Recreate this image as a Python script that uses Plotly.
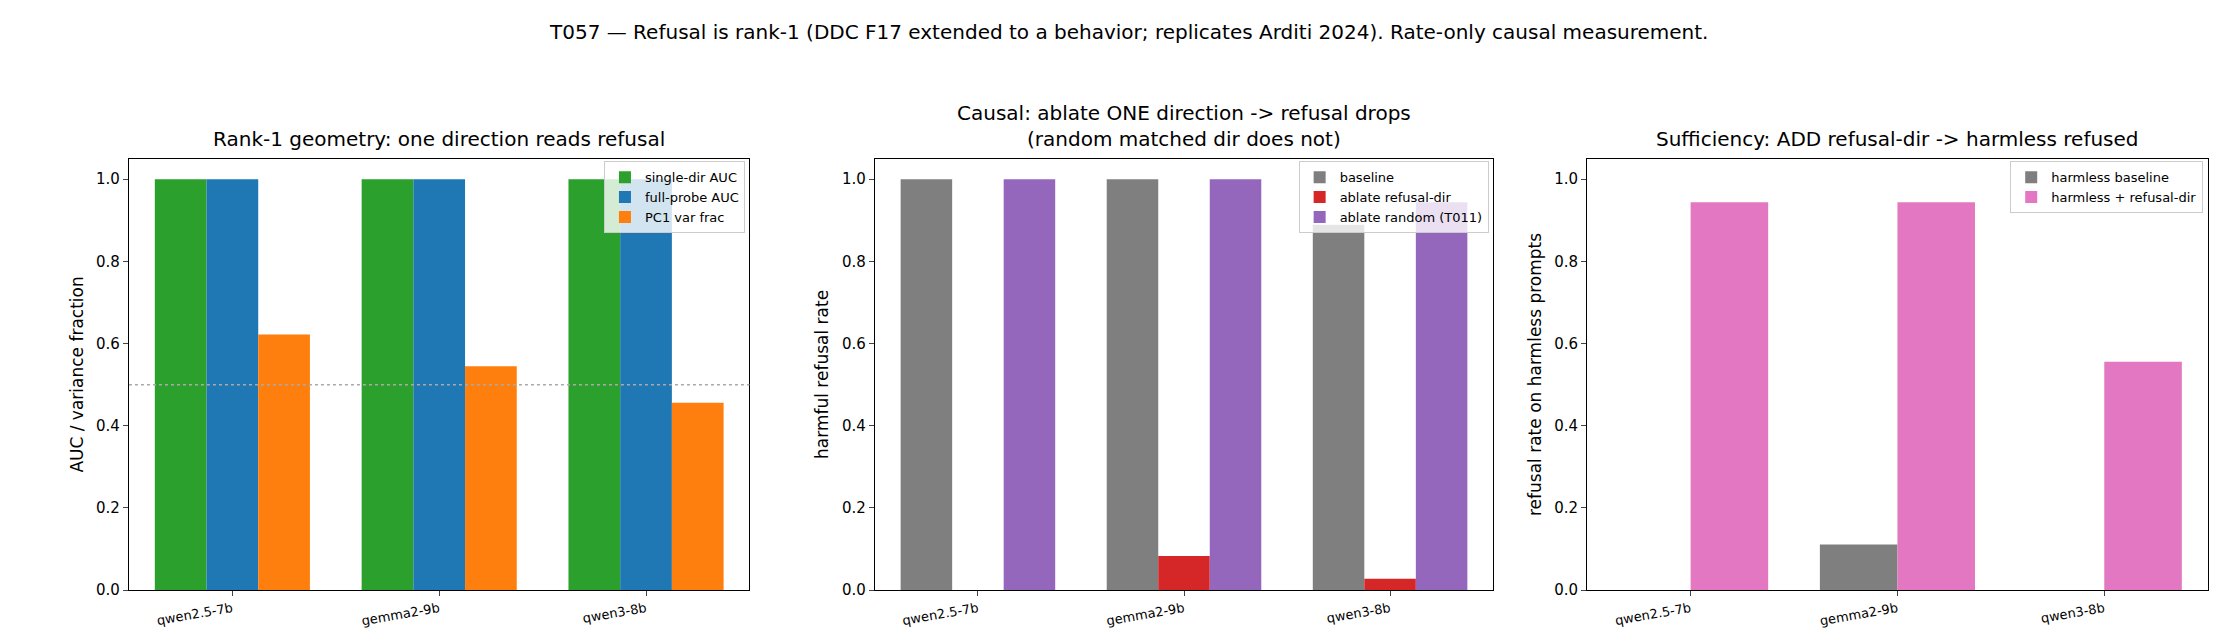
import plotly.graph_objects as go

models = ["qwen2.5-7b", "gemma2-9b", "qwen3-8b"]

single_dir_auc = [1.0, 1.0, 1.0]
full_probe_auc = [1.0, 1.0, 1.0]
pc1_var_frac = [0.622, 0.545, 0.456]

baseline = [1.0, 1.0, 0.889]
ablate_refusal = [0.0, 0.083, 0.028]
ablate_random = [1.0, 1.0, 0.944]

harmless_baseline = [0.0, 0.111, 0.0]
harmless_plus = [0.944, 0.944, 0.556]

GREEN, BLUE, ORANGE = "#2ca02c", "#1f77b4", "#ff7f0e"
GRAY, RED, PURPLE, PINK = "#7f7f7f", "#d62728", "#9467bd", "#e377c2"

fig = go.Figure()

panels = [
    ("", [("single-dir AUC", single_dir_auc, GREEN), ("full-probe AUC", full_probe_auc, BLUE),
          ("PC1 var frac", pc1_var_frac, ORANGE)], "legend"),
    ("2", [("baseline", baseline, GRAY), ("ablate refusal-dir", ablate_refusal, RED),
           ("ablate random (T011)", ablate_random, PURPLE)], "legend2"),
    ("3", [("harmless baseline", harmless_baseline, GRAY), ("harmless + refusal-dir", harmless_plus, PINK)], "legend3"),
]
for suffix, series, leg in panels:
    for name, vals, col in series:
        fig.add_trace(go.Bar(x=models, y=vals, name=name, marker_color=col, marker_line_width=0,
                             xaxis="x" + suffix, yaxis="y" + suffix, legend=leg))

domains = [(0.054, 0.331), (0.387, 0.663), (0.705, 0.982)]
ydom = [0.096, 0.766]
axis_common = dict(showline=True, mirror=True, linecolor="black", linewidth=1.2, ticks="outside",
                   showgrid=False, zeroline=False, automargin=False)
ytitles = ["AUC / variance fraction", "harmful refusal rate", "refusal rate on harmless prompts"]
for i, (d, yt) in enumerate(zip(domains, ytitles)):
    s = "" if i == 0 else str(i + 1)
    fig.update_layout(**{
        "xaxis" + s: dict(domain=list(d), anchor="y" + s, tickangle=-10, **axis_common,
                          tickfont=dict(size=13, color="black")),
        "yaxis" + s: dict(domain=ydom, anchor="x" + s, range=[0, 1.05], dtick=0.2, tickformat=".1f",
                          tickfont=dict(size=15, color="black"),
                          title=dict(text=yt, font=dict(size=17), standoff=8), **axis_common),
    })

fig.add_shape(type="line", xref="x domain", yref="y", x0=0, x1=1, y0=0.5, y1=0.5,
              line=dict(color="#aaaaaa", width=1.5, dash="dot"))

titles = [
    (0.1925, "Rank-1 geometry: one direction reads refusal"),
    (0.525, "Causal: ablate ONE direction -> refusal drops<br>(random matched dir does not)"),
    (0.8435, "Sufficiency: ADD refusal-dir -> harmless refused"),
]
for x, t in titles:
    fig.add_annotation(x=x, y=0.775, xref="paper", yref="paper", text=t, showarrow=False,
                       xanchor="center", yanchor="bottom", font=dict(size=20, color="black"))
fig.add_annotation(x=0.5, y=0.985, xref="paper", yref="paper", showarrow=False, yanchor="top",
                   text="T057 \u2014 Refusal is rank-1 (DDC F17 extended to a behavior; replicates Arditi 2024). Rate-only causal measurement.",
                   font=dict(size=20, color="black"))

leg_style = dict(xanchor="right", yanchor="top", bgcolor="rgba(255,255,255,0.8)",
                 bordercolor="#cccccc", borderwidth=1, font=dict(size=13), tracegroupgap=0)
fig.update_layout(
    width=2240, height=644, margin=dict(l=0, r=0, t=0, b=0, autoexpand=False),
    plot_bgcolor="white", paper_bgcolor="white",
    font=dict(family="DejaVu Sans", color="black"),
    barmode="group", bargap=0.25, bargroupgap=0,
    legend=dict(x=0.329, y=0.762, **leg_style),
    legend2=dict(x=0.661, y=0.762, **leg_style),
    legend3=dict(x=0.98, y=0.762, **leg_style),
)

fig.write_html("out.html")
